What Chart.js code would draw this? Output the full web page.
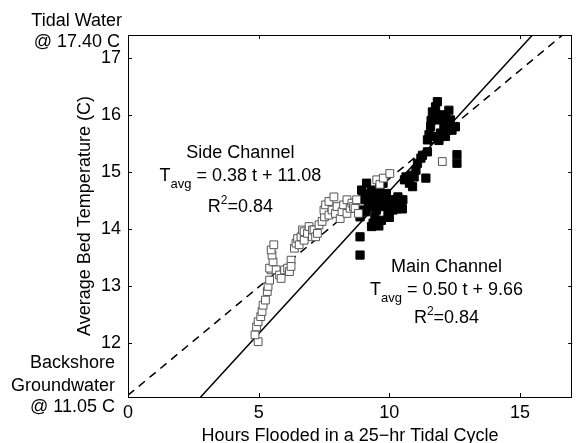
<!DOCTYPE html>
<html>
<head>
<meta charset="utf-8">
<script src="https://cdn.jsdelivr.net/npm/chart.js@4.4.1/dist/chart.umd.min.js"></script>
<style>
  body { margin: 0; background: #fff; }
  #wrap { width: 579px; height: 443px; }
</style>
</head>
<body>
<div id="wrap"><canvas id="chart" width="579" height="443"></canvas></div>
<script>
// axis ticks
const xTicks = [0, 5, 10, 15];
const yTicks = [12, 13, 14, 15, 16, 17];

// side channel (open squares): hours flooded, bed temperature
const sideHours = [4.98, 4.86, 4.92, 4.98, 5.08, 5.13, 5.17, 5.26, 5.33, 5.36, 5.42, 5.48, 5.42, 5.55, 5.51,
  5.48, 5.58, 5.67, 5.80, 5.86, 5.99, 6.11, 6.18, 6.24, 6.24, 6.37, 6.43, 6.49, 6.55, 6.62, 6.68, 6.74, 6.74,
  6.87, 6.93, 7.06, 7.06, 7.12, 7.18, 7.25, 7.31, 7.43, 7.52, 7.50, 7.56, 7.69, 7.69, 7.81, 7.88, 7.94, 8.00,
  8.12, 8.19, 8.25, 8.38, 8.38, 8.50, 8.57, 8.63, 8.69, 8.75, 8.82, 9.52, 9.64, 9.77, 10.02, 12.03];
const sideTemp = [12.02, 12.14, 12.28, 12.37, 12.46, 12.55, 12.66, 12.75, 12.90, 12.99, 13.10, 13.28, 13.31, 13.42, 13.54,
  13.63, 13.72, 13.28, 13.19, 13.13, 13.28, 13.31, 13.25, 13.45, 13.34, 13.66, 13.75, 13.83, 13.72, 13.86, 13.98, 13.95, 13.80,
  13.92, 14.04, 13.86, 13.98, 13.98, 13.86, 13.92, 14.07, 14.13, 14.21, 14.33, 14.42, 14.48, 14.24, 14.33, 14.56, 14.27, 14.39,
  14.18, 14.30, 14.42, 14.51, 14.27, 14.36, 14.45, 14.39, 14.36, 14.51, 14.27, 14.86, 14.78, 14.89, 14.97, 15.18];

// main channel (filled squares)
const mainHours = [8.88, 8.88, 8.88, 8.94, 9.01, 8.94, 9.00, 9.10, 9.13, 9.13, 9.20, 9.26, 9.32, 9.32, 9.38, 9.38, 9.45,
  9.45, 9.51, 9.57, 9.57, 9.60, 9.64, 9.70, 9.70, 9.76, 9.83, 9.89, 9.90, 9.95, 10.00, 10.01, 10.08, 10.14, 10.20, 10.26,
  10.30, 10.33, 10.39, 10.45, 10.50, 10.52, 10.58, 10.64, 10.77, 10.83, 10.89, 10.95, 11.02, 11.08, 11.21, 11.27, 11.40,
  11.46, 11.46, 11.52, 11.58, 11.60, 11.65, 11.71, 11.71, 11.77, 11.84, 11.90, 11.90, 11.96, 12.00, 12.09, 12.15, 12.15,
  12.21, 12.25, 12.28, 12.34, 12.40, 12.53, 12.59, 12.59];
const mainTemp = [13.54, 13.86, 14.21, 14.33, 14.51, 14.68, 14.62, 14.30, 14.56, 14.80, 14.39, 14.45, 14.68, 14.04, 14.45, 14.10, 14.21,
  14.55, 14.33, 14.62, 14.45, 14.05, 14.74, 14.51, 14.15, 14.80, 14.39, 14.62, 14.45, 14.27, 14.20, 14.51, 14.39, 14.33, 14.45, 14.51,
  14.35, 14.56, 14.39, 14.45, 14.35, 14.51, 14.86, 14.91, 14.80, 14.94, 14.74, 14.91, 15.03, 15.15, 15.24, 15.29, 14.89,
  15.35, 15.56, 15.65, 15.79, 15.90, 16.05, 15.97, 15.62, 16.14, 16.23, 15.91, 15.55, 15.68, 16.00, 15.79, 15.94, 15.62,
  15.73, 15.85, 16.08, 15.91, 15.73, 15.79, 15.30, 15.15];

// fitted lines: [slope, intercept]
const sideFit = [0.38, 11.08];
const mainFit = [0.50, 9.66];

const xRange = [0, 17];
const yRange = [11.05, 17.4];

// y-axis end labels (water temperatures at the axis limits)
const topLabel = ['Tidal Water', '@ 17.40 C'];
const bottomLabel = ['Backshore', 'Groundwater', '@ 11.05 C'];

const FONT = "'Liberation Sans', Arial, Helvetica, sans-serif";
Chart.defaults.font.family = FONT;
Chart.defaults.font.size = 18;
Chart.defaults.color = '#000';

const pts = (xs, ys) => xs.map((x, i) => ({ x: x, y: ys[i] }));
const fitLine = f => xRange.map(x => ({ x: x, y: f[0] * x + f[1] }));

// annotation blocks, anchored in data units (center x, baselines y)
const notes = [
  { x: 4.3, ys: [15.24, 14.84, 14.30], title: 'Side Channel', eq: ' = 0.38 t + 11.08', r2: '=0.84' },
  { x: 12.19, ys: [13.24, 12.84, 12.35], title: 'Main Channel', eq: ' = 0.50 t + 9.66', r2: '=0.84' }
];

const matlabBox = {
  id: 'matlabBox',
  afterDraw(chart) {
    const { ctx, chartArea: a, scales: { x, y } } = chart;
    ctx.save();
    ctx.strokeStyle = '#000';
    ctx.lineWidth = 1;
    ctx.beginPath();
    xTicks.forEach(v => {
      const px = Math.round(x.getPixelForValue(v)) + 0.5;
      ctx.moveTo(px, a.bottom); ctx.lineTo(px, a.bottom - 4);
      ctx.moveTo(px, a.top); ctx.lineTo(px, a.top + 4);
    });
    yTicks.forEach(v => {
      const py = Math.round(y.getPixelForValue(v)) + 0.5;
      ctx.moveTo(a.left, py); ctx.lineTo(a.left + 4, py);
      ctx.moveTo(a.right, py); ctx.lineTo(a.right - 4, py);
    });
    ctx.stroke();
    ctx.strokeRect(Math.round(a.left) + 0.5, Math.round(a.top) + 0.5,
      Math.round(a.right - a.left) - 1, Math.round(a.bottom - a.top));

    // end labels
    ctx.fillStyle = '#000';
    ctx.textAlign = 'right';
    ctx.textBaseline = 'alphabetic';
    ctx.font = '18px ' + FONT;
    const yt = y.getPixelForValue(yRange[1]);
    ctx.fillText(topLabel[0], a.left - 6, yt - 9);
    ctx.fillText(topLabel[1], a.left - 8, yt + 12);
    const yb = y.getPixelForValue(yRange[0]);
    [-29, -6, 15].forEach((d, i) => ctx.fillText(bottomLabel[i], a.left - 13, yb + d));

    // equation annotations
    ctx.textAlign = 'left';
    notes.forEach(n => {
      const cx = x.getPixelForValue(n.x);
      const [b1, b2, b3] = n.ys.map(v => y.getPixelForValue(v));
      ctx.font = '18px ' + FONT;
      let w = ctx.measureText(n.title).width;
      ctx.fillText(n.title, cx - w / 2, b1);

      const wT = ctx.measureText('T').width;
      const wEq = ctx.measureText(n.eq).width;
      ctx.font = '13px ' + FONT;
      const wSub = ctx.measureText('avg').width;
      let sx = cx - (wT + wSub + wEq) / 2;
      ctx.font = '18px ' + FONT;
      ctx.fillText('T', sx, b2);
      ctx.font = '13px ' + FONT;
      ctx.fillText('avg', sx + wT, b2 + 7);
      ctx.font = '18px ' + FONT;
      ctx.fillText(n.eq, sx + wT + wSub, b2);

      const wR = ctx.measureText('R').width;
      const wRest = ctx.measureText(n.r2).width;
      ctx.font = '12px ' + FONT;
      const wSup = ctx.measureText('2').width;
      sx = cx - (wR + wSup + wRest) / 2;
      ctx.font = '18px ' + FONT;
      ctx.fillText('R', sx, b3);
      ctx.font = '12px ' + FONT;
      ctx.fillText('2', sx + wR, b3 - 8);
      ctx.font = '18px ' + FONT;
      ctx.fillText(n.r2, sx + wR + wSup, b3);
    });
    ctx.restore();
  }
};

new Chart(document.getElementById('chart'), {
  type: 'scatter',
  data: {
    datasets: [{
      label: 'Side Channel',
      data: pts(sideHours, sideTemp),
      pointStyle: 'rect',
      pointRadius: 5.5,
      backgroundColor: '#fff',
      borderColor: '#555',
      borderWidth: 1,
      order: 1
    }, {
      label: 'Main Channel',
      data: pts(mainHours, mainTemp),
      pointStyle: 'rect',
      pointRadius: 5.8,
      backgroundColor: '#000',
      borderColor: '#000',
      borderWidth: 1,
      order: 2
    }, {
      label: 'Side fit',
      type: 'line',
      data: fitLine(sideFit),
      borderColor: '#000',
      borderWidth: 1.5,
      borderDash: [8, 6],
      pointRadius: 0,
      order: 3
    }, {
      label: 'Main fit',
      type: 'line',
      data: fitLine(mainFit),
      borderColor: '#000',
      borderWidth: 1.5,
      pointRadius: 0,
      order: 3
    }]
  },
  options: {
    responsive: false,
    animation: false,
    events: [],
    layout: { padding: { top: 35, right: 2, left: 0, bottom: 0 } },
    plugins: { legend: { display: false }, tooltip: { enabled: false } },
    scales: {
      x: {
        type: 'linear',
        min: xRange[0],
        max: xRange[1],
        afterBuildTicks: s => { s.ticks = xTicks.map(v => ({ value: v })); },
        afterFit: s => { s.height = 46; },
        grid: { display: false, drawTicks: false },
        border: { display: false },
        ticks: { padding: 5, font: { size: 18 } },
        title: {
          display: true,
          text: 'Hours Flooded in a 25\u2212hr Tidal Cycle',
          font: { size: 18, lineHeight: 0.8 },
          padding: 0
        }
      },
      y: {
        type: 'linear',
        min: yRange[0],
        max: yRange[1],
        afterBuildTicks: s => { s.ticks = yTicks.map(v => ({ value: v })); },
        afterFit: s => { s.width = 128; },
        grid: { display: false, drawTicks: false },
        border: { display: false },
        ticks: { padding: 7, font: { size: 18 } },
        title: {
          display: true,
          text: 'Average Bed Temperature (C)',
          font: { size: 18 },
          padding: { top: 74, bottom: 0 }
        }
      }
    }
  },
  plugins: [matlabBox]
});
</script>
</body>
</html>
